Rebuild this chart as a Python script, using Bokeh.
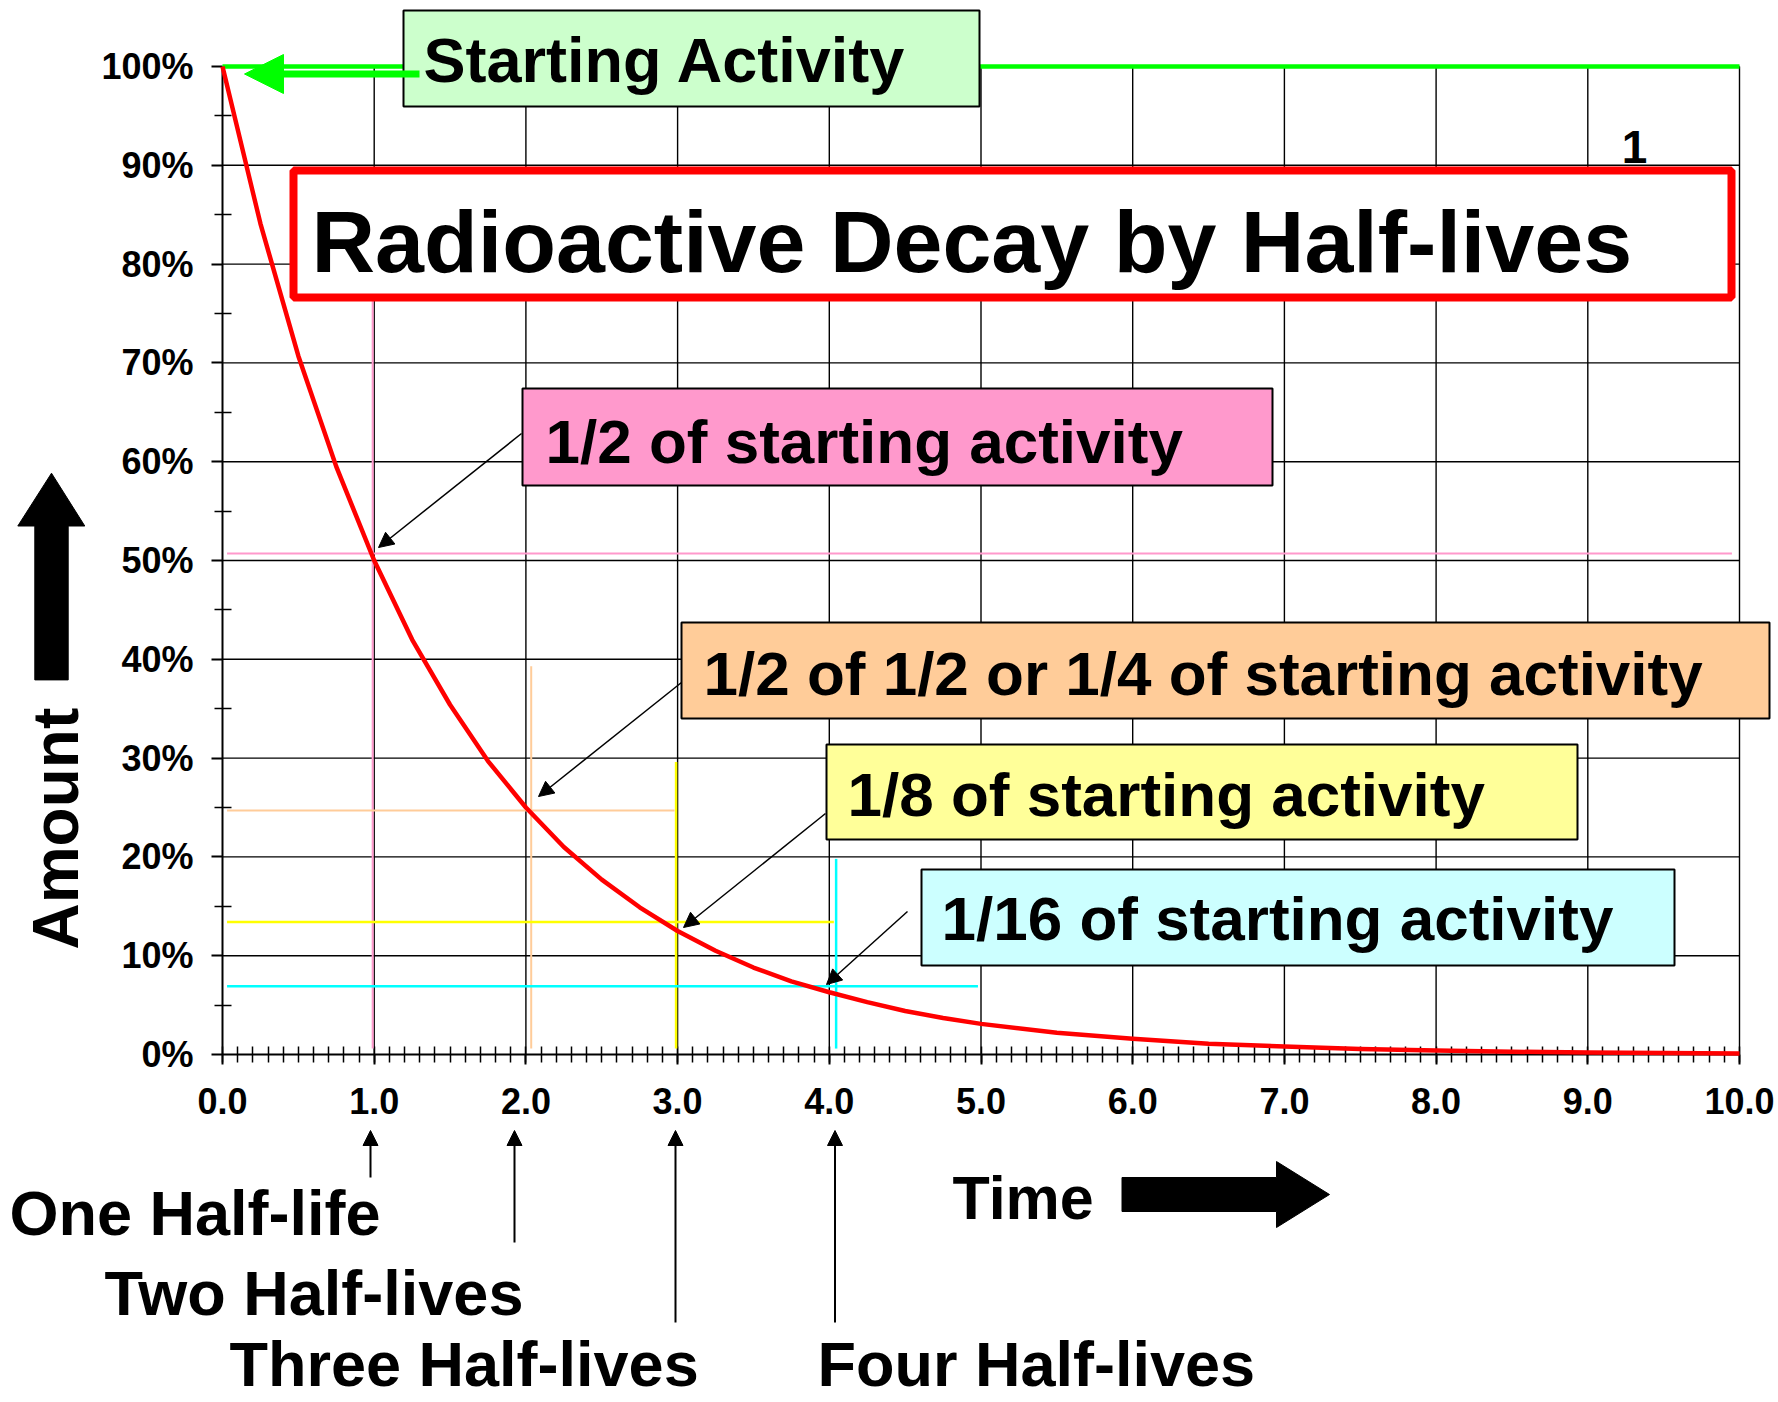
import math
from bokeh.plotting import figure
from bokeh.models import (Range1d, FixedTicker, BoxAnnotation, Label, Arrow,
                          NormalHead, PolyAnnotation)
from bokeh.embed import file_html
from bokeh.resources import INLINE

# ---------------- data ----------------
time_halflives = [0, 0.25, 0.5, 0.75, 1.0, 1.25, 1.5, 1.75, 2.0, 2.25, 2.5, 2.75,
                  3.0, 3.25, 3.5, 3.75, 4.0, 4.25, 4.5, 4.75, 5.0, 5.5, 6.0, 6.5,
                  7.0, 7.5, 8.0, 8.5, 9.0, 9.5, 10.0]
activity_pct = [100, 84.1, 70.7, 59.5, 50.0, 42.0, 35.4, 29.7, 25.0, 21.0, 17.7, 14.9,
                12.5, 10.5, 8.8, 7.4, 6.3, 5.3, 4.4, 3.7, 3.1, 2.2, 1.6, 1.1,
                0.8, 0.55, 0.4, 0.28, 0.2, 0.14, 0.1]

start_x = [0, 10]
start_pct = [100, 100]

x_tick_values = [0, 1, 2, 3, 4, 5, 6, 7, 8, 9, 10]
x_tick_labels = ["0.0", "1.0", "2.0", "3.0", "4.0", "5.0", "6.0", "7.0", "8.0", "9.0", "10.0"]
y_tick_values = [0, 10, 20, 30, 40, 50, 60, 70, 80, 90, 100]
y_tick_labels = ["0%", "10%", "20%", "30%", "40%", "50%", "60%", "70%", "80%", "90%", "100%"]

# guide lines: 1/2, 1/4, 1/8, 1/16
guide_vx = [0.99, 2.035, 2.99, 4.045]        # vertical guide positions (half-lives)
guide_vtop = [79.7, 39.3, 29.6, 19.8]         # vertical guide tops (%)
guide_hy = [50.7, 24.7, 13.4, 6.9]            # horizontal guide levels (%)
guide_hend = [9.95, 2.98, 4.03, 4.98]         # horizontal guide right ends (half-lives)

box_texts = ["1/2 of starting activity",
             "1/2 of 1/2 or 1/4 of starting activity",
             "1/8 of starting activity",
             "1/16 of starting activity"]
halflife_texts = ["One Half-life", "Two Half-lives", "Three Half-lives", "Four Half-lives"]

# ---------------- styles / layout ----------------
guide_colors = ["#FF99CC", "#FFCC99", "#FFFF00", "#00FFFF"]
guide_widths = [2, 2, 2.5, 2.5]
box_fills = ["#FF99CC", "#FFCC99", "#FFFF99", "#CCFFFF"]

FONT = "Liberation Sans"
W, H = 1776, 1400
# pixel position of the data origin and scale (frame covers the whole canvas)
PX0, PX10 = 222.0, 1739.0     # x = 0 and x = 10
PY0, PY100 = 1054.0, 66.0     # y = 0% and y = 100%
KB = 0.35                     # baseline correction (fraction of font size)


def dx(px):
    return (px - PX0) * 10.0 / (PX10 - PX0)


def dy(py):
    return (PY0 - py) * 100.0 / (PY0 - PY100)


p = figure(width=W, height=H, x_range=Range1d(dx(0), dx(W)), y_range=Range1d(dy(H), dy(0)),
           output_backend="svg", toolbar_location=None, title=None,
           min_border=0, min_border_left=0, min_border_right=0,
           min_border_top=0, min_border_bottom=0)
p.outline_line_color = None
p.background_fill_color = "white"
p.border_fill_color = "white"
p.xgrid.visible = False
p.ygrid.visible = False

# axes through the origin
p.xaxis.ticker = FixedTicker(ticks=x_tick_values, minor_ticks=[i / 10 for i in range(101)])
p.yaxis.ticker = FixedTicker(ticks=y_tick_values, minor_ticks=[5 + 10 * i for i in range(10)])
p.xaxis.major_label_overrides = {v: s for v, s in zip(x_tick_values, x_tick_labels)}
p.yaxis.major_label_overrides = {v: s for v, s in zip(y_tick_values, y_tick_labels)}
p.xaxis.fixed_location = 0
p.yaxis.fixed_location = 0
p.xaxis.bounds = (0, 10)
p.yaxis.bounds = (0, 100)
for ax in (p.xaxis[0], p.yaxis[0]):
    ax.level = "underlay"
    ax.axis_line_color = "black"
    ax.axis_line_width = 2
    ax.major_tick_line_color = "black"
    ax.major_tick_line_width = 2
    ax.minor_tick_line_color = "black"
    ax.minor_tick_line_width = 1.5
    ax.major_label_text_font = FONT
    ax.major_label_text_font_style = "bold"
    ax.major_label_text_font_size = "36px"
    ax.major_label_text_color = "black"
p.xaxis.major_tick_in = 0
p.xaxis.major_tick_out = 10
p.xaxis.minor_tick_in = 8
p.xaxis.minor_tick_out = 8
p.xaxis.major_label_standoff = 23
p.yaxis.major_tick_in = 0
p.yaxis.major_tick_out = 11
p.yaxis.minor_tick_in = 9
p.yaxis.minor_tick_out = 8
p.yaxis.major_label_standoff = 18

# grid lines at the major ticks, bounded to the data area
p.segment(x0=x_tick_values[1:], y0=[0] * 10, x1=x_tick_values[1:], y1=[100] * 10,
          line_color="black", line_width=1.4)
p.segment(x0=[0] * 10, y0=y_tick_values[1:], x1=[10] * 10, y1=y_tick_values[1:],
          line_color="black", line_width=1.4)

# guide lines
p.segment(x0=guide_vx, y0=[0.6] * 4, x1=guide_vx, y1=guide_vtop,
          line_color=guide_colors, line_width=guide_widths)
p.segment(x0=[0.03] * 4, y0=guide_hy, x1=guide_hend, y1=guide_hy,
          line_color=guide_colors, line_width=guide_widths)

# starting level and decay curve
p.line(start_x, start_pct, line_color="#00FF00", line_width=4.5)
p.line(time_halflives, activity_pct, line_color="#FF0000", line_width=4.5, line_join="round")


def box(l, r, t, b, fill, line="black", lw=2):
    p.add_layout(BoxAnnotation(left=dx(l), right=dx(r), top=dy(t), bottom=dy(b),
                               fill_color=fill, fill_alpha=1.0,
                               line_color=line, line_alpha=1.0, line_width=lw))


def label(x, y, text, size, align="left"):
    """x = left/center, y = text baseline (page pixels)"""
    p.add_layout(Label(x=dx(x), y=dy(y - KB * size), text=text, text_font=FONT,
                       text_font_style="bold", text_font_size=f"{size}px",
                       text_color="black", text_align=align,
                       text_baseline="alphabetic"))


def arrow(x0, y0, x1, y1, color="black", lw=1.5, size=15):
    p.add_layout(Arrow(x_start=dx(x0), y_start=dy(y0), x_end=dx(x1), y_end=dy(y1),
                       line_color=color, line_width=lw,
                       end=NormalHead(size=size, fill_color=color, line_color=color,
                                      line_width=1)))


def block(points):
    p.add_layout(PolyAnnotation(xs=[dx(a) for a, _ in points], ys=[dy(b) for _, b in points],
                                fill_color="black", fill_alpha=1.0,
                                line_color="black", line_alpha=1.0, line_width=1))


# starting activity box + green arrow
box(403, 979, 10, 106, "#CCFFCC")
label(423, 82, "Starting Activity", 63)
arrow(419, 73.5, 244, 73.5, color="#00FF00", lw=7, size=39)

# title box
box(293, 1731, 170, 297, "white", line="#FF0000", lw=8)
label(311, 272, "Radioactive Decay by Half-lives", 88)
label(1634, 163, "1", 46, align="center")

# annotation boxes
box_rects = [(522, 1272, 388, 485), (681, 1769, 622, 718),
             (826, 1577, 744, 839), (921, 1674, 869, 965)]
text_pos = [(545, 463), (703, 695), (847, 816), (941, 940)]
arrow_pos = [(521, 433, 378, 547), (681, 682, 538, 796),
             (825, 813, 683, 927), (907, 911, 826, 984)]
for (l, r, t, b), fill, txt, (tx, ty), (ax0, ay0, ax1, ay1) in zip(
        box_rects, box_fills, box_texts, text_pos, arrow_pos):
    box(l, r, t, b, fill)
    label(tx, ty, txt, 62)
    arrow(ax0, ay0, ax1, ay1)

# half-life labels below the axis
hl_pos = [(9, 1235), (104, 1315), (229, 1386), (817, 1386)]
hl_arrows = [(370, 1177), (514, 1242), (675, 1322), (834.5, 1322)]
for txt, (tx, ty), (axx, ayb) in zip(halflife_texts, hl_pos, hl_arrows):
    label(tx, ty, txt, 63)
    arrow(axx, ayb, axx, 1130, lw=2)

# Time label + block arrow
label(952, 1219, "Time", 61)
block([(1121.5, 1177), (1276, 1177), (1276, 1161), (1329, 1194),
       (1276, 1227), (1276, 1211), (1121.5, 1211)])

# Amount label (rotated) + block arrow
AMT = 64
p.add_layout(Label(x=dx(78 - KB * AMT), y=dy(949), text="Amount", text_font=FONT,
                   text_font_style="bold", text_font_size=f"{AMT}px", text_color="black",
                   text_align="left", text_baseline="alphabetic", angle=math.pi / 2))
block([(51, 472.7), (84.3, 525.5), (67.7, 525.5), (67.7, 679.4),
       (34.3, 679.4), (34.3, 525.5), (17.3, 525.5)])

open("out.html", "w").write(file_html(p, INLINE))
